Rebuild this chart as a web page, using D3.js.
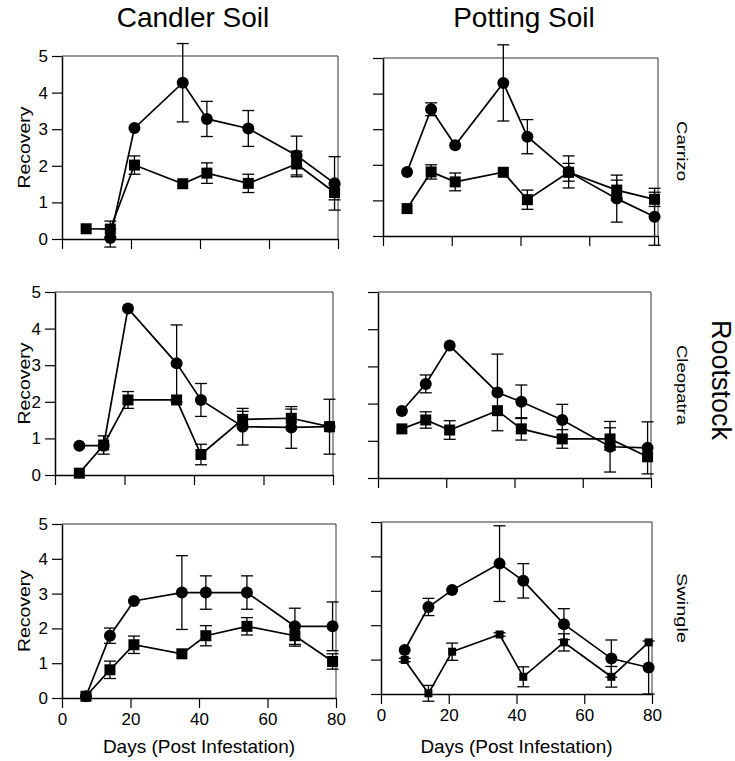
<!DOCTYPE html>
<html>
<head>
<meta charset="utf-8">
<script src="https://cdn.jsdelivr.net/npm/d3@7"></script>
<style>
  html, body { margin: 0; padding: 0; background: #fff; }
  svg { display: block; font-family: "Liberation Sans", Arial, Helvetica, sans-serif; }
</style>
</head>
<body>
<svg id="chart" width="735" height="761"></svg>
<script>
// ---------- DATA ----------
const days = [7, 14, 21, 35, 42, 54, 68, 79];
const soils = ["Candler Soil", "Potting Soil"];
const rootstocks = ["Carrizo", "Cleopatra", "Swingle"];
const xTicks = [0, 20, 40, 60, 80];
const yTicks = [0, 1, 2, 3, 4, 5];

// Candler soil / Carrizo
const candlerCarrizoCircle    = [null, 0.03, 3.03, 4.27, 3.28, 3.02, 2.28, 1.52];
const candlerCarrizoCircleErr = [0, 0.25, 0, 1.07, 0.48, 0.49, 0.53, 0.73];
const candlerCarrizoSquare    = [0.28, 0.27, 2.02, 1.51, 1.80, 1.52, 2.05, 1.27];
const candlerCarrizoSquareErr = [0, 0.22, 0.25, 0, 0.28, 0.25, 0.35, 0.2];
// Potting soil / Carrizo
const pottingCarrizoCircle    = [1.80, 3.56, 2.55, 4.30, 2.79, 1.80, 1.05, 0.54];
const pottingCarrizoCircleErr = [0, 0.18, 0, 1.07, 0.48, 0.45, 0.66, 0.8];
const pottingCarrizoSquare    = [0.77, 1.80, 1.52, 1.79, 1.02, 1.79, 1.29, 1.03];
const pottingCarrizoSquareErr = [0, 0.2, 0.25, 0, 0.27, 0.25, 0.28, 0.2];
// Candler soil / Cleopatra
const candlerCleopatraCircle    = [0.80, 0.80, 4.55, 3.05, 2.05, 1.32, 1.30, 1.32];
const candlerCleopatraCircleErr = [0, 0, 0, 1.05, 0.45, 0.5, 0.57, 0.75];
const candlerCleopatraSquare    = [0.05, 0.82, 2.05, 2.05, 0.56, 1.52, 1.55, 1.32];
const candlerCleopatraSquareErr = [0, 0.25, 0.23, 0, 0.28, 0.22, 0.25, 0];
// Potting soil / Cleopatra
const pottingCleopatraCircle    = [1.80, 2.53, 3.56, 2.30, 2.05, 1.56, 0.84, 0.81];
const pottingCleopatraCircleErr = [0, 0.24, 0, 1.03, 0.45, 0.42, 0.68, 0.7];
const pottingCleopatraSquare    = [1.32, 1.56, 1.29, 1.81, 1.32, 1.05, 1.05, 0.57];
const pottingCleopatraSquareErr = [0, 0.22, 0.25, 0, 0.3, 0.25, 0.3, 0];
// Candler soil / Swingle
const candlerSwingleCircle    = [0.05, 1.79, 2.79, 3.03, 3.03, 3.03, 2.06, 2.06];
const candlerSwingleCircleErr = [0, 0.22, 0, 1.06, 0.48, 0.48, 0.52, 0.7];
const candlerSwingleSquare    = [0.05, 0.81, 1.53, 1.27, 1.79, 2.06, 1.79, 1.05];
const candlerSwingleSquareErr = [0, 0.25, 0.25, 0, 0.29, 0.25, 0.3, 0.22];
// Potting soil / Swingle
const pottingSwingleCircle    = [1.28, 2.53, 3.02, 3.79, 3.29, 2.03, 1.03, 0.77];
const pottingSwingleCircleErr = [0, 0.25, 0, 1.1, 0.5, 0.45, 0.54, 0.77];
const pottingSwingleSquare    = [0.99, 0.02, 1.23, 1.73, 0.50, 1.50, 0.50, 1.50];
const pottingSwingleSquareErr = [0.05, 0.23, 0.25, 0.05, 0.29, 0.25, 0.3, 0];

// ---------- LAYOUT (pixel frames of each panel) ----------
const panels = [
  { row: 0, col: 0, x0: 62,  x1: 338, yTop: 56,  yBot: 239, circle: candlerCarrizoCircle, circleErr: candlerCarrizoCircleErr, square: candlerCarrizoSquare, squareErr: candlerCarrizoSquareErr, sq: 11 },
  { row: 0, col: 1, x0: 383, x1: 658, yTop: 58,  yBot: 236, circle: pottingCarrizoCircle, circleErr: pottingCarrizoCircleErr, square: pottingCarrizoSquare, squareErr: pottingCarrizoSquareErr, sq: 11 },
  { row: 1, col: 0, x0: 55,  x1: 333, yTop: 292, yBot: 475, circle: candlerCleopatraCircle, circleErr: candlerCleopatraCircleErr, square: candlerCleopatraSquare, squareErr: candlerCleopatraSquareErr, sq: 11 },
  { row: 1, col: 1, x0: 378, x1: 651, yTop: 292, yBot: 478, circle: pottingCleopatraCircle, circleErr: pottingCleopatraCircleErr, square: pottingCleopatraSquare, squareErr: pottingCleopatraSquareErr, sq: 11 },
  { row: 2, col: 0, x0: 62,  x1: 336, yTop: 524, yBot: 698, circle: candlerSwingleCircle, circleErr: candlerSwingleCircleErr, square: candlerSwingleSquare, squareErr: candlerSwingleSquareErr, sq: 11 },
  { row: 2, col: 1, x0: 381, x1: 652, yTop: 522, yBot: 694, circle: pottingSwingleCircle, circleErr: pottingSwingleCircleErr, square: pottingSwingleSquare, squareErr: pottingSwingleSquareErr, sq: 8 }
];

const svg = d3.select("#chart");
const FONT = "'Liberation Sans', Arial, Helvetica, sans-serif";

panels.forEach(p => {
  const x = d3.scaleLinear().domain([0, 80]).range([p.x0, p.x1]);
  const y = d3.scaleLinear().domain([0, 5]).range([p.yBot, p.yTop]);
  const g = svg.append("g");

  // frame top/right
  g.append("line").attr("x1", x(0)).attr("x2", x(80)).attr("y1", y(5)).attr("y2", y(5))
    .attr("stroke", "#333").attr("stroke-width", 1);
  g.append("line").attr("x1", x(80)).attr("x2", x(80)).attr("y1", y(5)).attr("y2", y(0))
    .attr("stroke", "#333").attr("stroke-width", 1);

  // axes
  const xAxis = d3.axisBottom(x).tickValues(xTicks).tickSize(10).tickSizeOuter(0).tickPadding(5)
    .tickFormat(p.row === 2 ? d3.format("d") : () => "");
  const yAxis = d3.axisLeft(y).tickValues(yTicks).tickSize(10).tickSizeOuter(0).tickPadding(4)
    .tickFormat(p.col === 0 ? d3.format("d") : () => "");
  const gx = g.append("g").attr("transform", `translate(0,${y(0)})`).call(xAxis);
  const gy = g.append("g").attr("transform", `translate(${x(0)},0)`).call(yAxis);
  [gx, gy].forEach(a => {
    a.select(".domain").attr("stroke", "#000").attr("stroke-width", 1.5);
    a.selectAll(".tick line").attr("stroke", "#000").attr("stroke-width", 1.2);
    a.selectAll(".tick text").attr("fill", "#000").attr("font-family", FONT).attr("font-size", 17);
  });

  // data
  const mk = (vals, errs) => days.map((d, i) => ({ d, v: vals[i], e: errs[i] })).filter(o => o.v !== null);
  const circ = mk(p.circle, p.circleErr);
  const sqr = mk(p.square, p.squareErr);
  const line = d3.line().x(o => x(o.d)).y(o => y(o.v));

  [circ, sqr].forEach(series => {
    g.append("path").datum(series).attr("d", line)
      .attr("fill", "none").attr("stroke", "#000").attr("stroke-width", 1.7);
    series.filter(o => o.e > 0).forEach(o => {
      const cx = x(o.d), yt = y(o.v + o.e), yb = y(o.v - o.e);
      g.append("line").attr("x1", cx).attr("x2", cx).attr("y1", yt).attr("y2", yb)
        .attr("stroke", "#000").attr("stroke-width", 1.3);
      [yt, yb].forEach(yy => g.append("line").attr("x1", cx - 6).attr("x2", cx + 6)
        .attr("y1", yy).attr("y2", yy).attr("stroke", "#000").attr("stroke-width", 1.3));
    });
  });

  g.selectAll("circle.pt").data(circ).enter().append("circle")
    .attr("cx", o => x(o.d)).attr("cy", o => y(o.v)).attr("r", 6).attr("fill", "#000");
  g.selectAll("rect.pt").data(sqr).enter().append("rect")
    .attr("x", o => x(o.d) - p.sq / 2).attr("y", o => y(o.v) - p.sq / 2)
    .attr("width", p.sq).attr("height", p.sq).attr("fill", "#000");

  // y label on left panels
  if (p.col === 0) {
    const cy = (p.yTop + p.yBot) / 2;
    g.append("text").text("Recovery")
      .attr("transform", `translate(30,${cy}) rotate(-90)`)
      .attr("text-anchor", "middle").attr("font-family", FONT).attr("font-size", 17)
      .attr("textLength", 82).attr("lengthAdjust", "spacingAndGlyphs");
  }
  // rootstock label on right panels
  if (p.col === 1) {
    const cy = (p.yTop + p.yBot) / 2 + (p.row === 0 ? 4 : 0);
    const lens = [60, 80, 70];
    g.append("text").text(rootstocks[p.row])
      .attr("transform", `translate(677,${cy}) rotate(90)`)
      .attr("text-anchor", "middle").attr("font-family", FONT).attr("font-size", 14)
      .attr("textLength", lens[p.row]).attr("lengthAdjust", "spacingAndGlyphs");
  }
  // x label on bottom panels
  if (p.row === 2) {
    g.append("text").text("Days (Post Infestation)")
      .attr("x", (p.x0 + p.x1) / 2).attr("y", 753)
      .attr("text-anchor", "middle").attr("font-family", FONT).attr("font-size", 19);
  }
});

// column titles
const titleX = [193, 524];
soils.forEach((s, i) => {
  svg.append("text").text(s).attr("x", titleX[i]).attr("y", 27)
    .attr("text-anchor", "middle").attr("font-family", FONT).attr("font-size", 28);
});

// Rootstock
svg.append("text").text("Rootstock")
  .attr("transform", "translate(712,380) rotate(90)")
  .attr("text-anchor", "middle").attr("font-family", FONT).attr("font-size", 27)
  .attr("textLength", 120).attr("lengthAdjust", "spacingAndGlyphs");
</script>
</body>
</html>
